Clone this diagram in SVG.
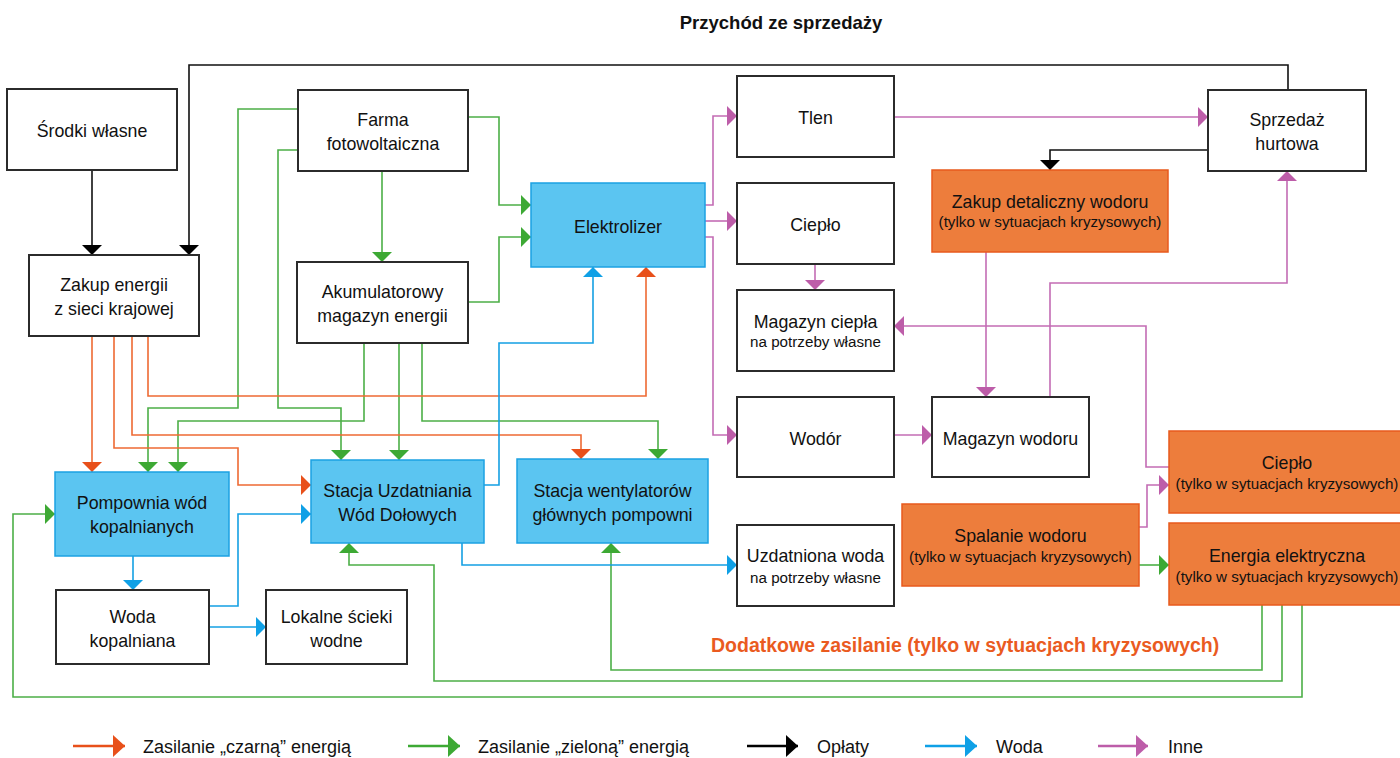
<svg xmlns="http://www.w3.org/2000/svg" width="1400" height="758" viewBox="0 0 1400 758">
<style>
.box{fill:#fff;stroke:#2b2b2b;stroke-width:2}
.blue{fill:#5BC5F1;stroke:#1BA1E2;stroke-width:1.5}
.orng{fill:#ED7D3C;stroke:#E85A1C;stroke-width:1.5}
text{font-family:"Liberation Sans",Arial,sans-serif;fill:#111}
.t{font-size:17.8px;text-anchor:middle}
.s{font-size:15.2px;text-anchor:middle}
.lg{font-size:18px}
.c{fill:none;stroke-width:1.6}
.k{stroke:#111}.g{stroke:#4CAF47}.o{stroke:#EE6A33}.b{stroke:#14A0E3}.p{stroke:#C36CB4}
</style>
<defs>
<marker id="ak" markerUnits="userSpaceOnUse" markerWidth="10" markerHeight="20" viewBox="0 0 10 20" refX="10" refY="10" orient="auto"><path d="M0,0 L10,10 L0,20 z" fill="#000"/></marker>
<marker id="ag" markerUnits="userSpaceOnUse" markerWidth="10" markerHeight="20" viewBox="0 0 10 20" refX="10" refY="10" orient="auto"><path d="M0,0 L10,10 L0,20 z" fill="#3DA934"/></marker>
<marker id="ao" markerUnits="userSpaceOnUse" markerWidth="10" markerHeight="20" viewBox="0 0 10 20" refX="10" refY="10" orient="auto"><path d="M0,0 L10,10 L0,20 z" fill="#E8501A"/></marker>
<marker id="ab" markerUnits="userSpaceOnUse" markerWidth="10" markerHeight="20" viewBox="0 0 10 20" refX="10" refY="10" orient="auto"><path d="M0,0 L10,10 L0,20 z" fill="#0FA0E6"/></marker>
<marker id="ap" markerUnits="userSpaceOnUse" markerWidth="10" markerHeight="20" viewBox="0 0 10 20" refX="10" refY="10" orient="auto"><path d="M0,0 L10,10 L0,20 z" fill="#BD5DA9"/></marker>
<marker id="lk" markerUnits="userSpaceOnUse" markerWidth="12" markerHeight="22" viewBox="0 0 12 22" refX="12" refY="11" orient="auto"><path d="M0,0 L12,11 L0,22 z" fill="#000"/></marker>
<marker id="lg" markerUnits="userSpaceOnUse" markerWidth="12" markerHeight="22" viewBox="0 0 12 22" refX="12" refY="11" orient="auto"><path d="M0,0 L12,11 L0,22 z" fill="#3DA934"/></marker>
<marker id="lo" markerUnits="userSpaceOnUse" markerWidth="12" markerHeight="22" viewBox="0 0 12 22" refX="12" refY="11" orient="auto"><path d="M0,0 L12,11 L0,22 z" fill="#E8501A"/></marker>
<marker id="lb" markerUnits="userSpaceOnUse" markerWidth="12" markerHeight="22" viewBox="0 0 12 22" refX="12" refY="11" orient="auto"><path d="M0,0 L12,11 L0,22 z" fill="#0FA0E6"/></marker>
<marker id="lp" markerUnits="userSpaceOnUse" markerWidth="12" markerHeight="22" viewBox="0 0 12 22" refX="12" refY="11" orient="auto"><path d="M0,0 L12,11 L0,22 z" fill="#BD5DA9"/></marker>
</defs>

<text x="781" y="29" style="font-size:18.5px;font-weight:bold;text-anchor:middle">Przychód ze sprzedaży</text>

<g id="connectors">
<!-- black -->
<path class="c k" d="M92,170 V255" marker-end="url(#ak)"/>
<path class="c k" d="M1288,90 V65 H189 V255" marker-end="url(#ak)"/>
<path class="c k" d="M1208,150 H1050 V170" marker-end="url(#ak)"/>
<!-- green -->
<path class="c g" d="M382,171 V262" marker-end="url(#ag)"/>
<path class="c g" d="M468,117 H499 V205 H531" marker-end="url(#ag)"/>
<path class="c g" d="M468,302 H499 V237 H531" marker-end="url(#ag)"/>
<path class="c g" d="M298,109 H238 V408 H148 V472" marker-end="url(#ag)"/>
<path class="c g" d="M298,150 H278 V408 H341 V460" marker-end="url(#ag)"/>
<path class="c g" d="M364,343 V421 H178 V472" marker-end="url(#ag)"/>
<path class="c g" d="M399,343 V460" marker-end="url(#ag)"/>
<path class="c g" d="M422,343 V421 H658 V459" marker-end="url(#ag)"/>
<path class="c g" d="M1139,565 H1169" marker-end="url(#ag)"/>
<path class="c g" d="M1262,605 V670 H611 V543" marker-end="url(#ag)"/>
<path class="c g" d="M1282,605 V681 H434 V565 H349 V543" marker-end="url(#ag)"/>
<path class="c g" d="M1302,605 V697 H13 V514 H55" marker-end="url(#ag)"/>
<!-- orange -->
<path class="c o" d="M92,336 V472" marker-end="url(#ao)"/>
<path class="c o" d="M114,336 V448 H238 V485 H311" marker-end="url(#ao)"/>
<path class="c o" d="M132,336 V435 H581 V459" marker-end="url(#ao)"/>
<path class="c o" d="M148,336 V396 H646 V267" marker-end="url(#ao)"/>
<!-- blue -->
<path class="c b" d="M133,556 V590" marker-end="url(#ab)"/>
<path class="c b" d="M209,606 H238 V514 H311" marker-end="url(#ab)"/>
<path class="c b" d="M209,627 H266" marker-end="url(#ab)"/>
<path class="c b" d="M484,485 H499 V343 H593 V267" marker-end="url(#ab)"/>
<path class="c b" d="M462,543 V565 H737" marker-end="url(#ab)"/>
<!-- pink -->
<path class="c p" d="M705,205 H713 V116 H737" marker-end="url(#ap)"/>
<path class="c p" d="M705,221 H737" marker-end="url(#ap)"/>
<path class="c p" d="M705,237 H713 V435 H737" marker-end="url(#ap)"/>
<path class="c p" d="M894,117 H1208" marker-end="url(#ap)"/>
<path class="c p" d="M815,264 V290" marker-end="url(#ap)"/>
<path class="c p" d="M1169,467 H1146 V326 H894" marker-end="url(#ap)"/>
<path class="c p" d="M986,252 V397" marker-end="url(#ap)"/>
<path class="c p" d="M1050,397 V283 H1287 V171" marker-end="url(#ap)"/>
<path class="c p" d="M894,435 H932" marker-end="url(#ap)"/>
<path class="c p" d="M1139,527 H1147 V485 H1169" marker-end="url(#ap)"/>
</g>

<g id="srodki"><rect class="box" x="7" y="89" width="170" height="81"/><text class="t" x="92" y="137">Środki własne</text></g>
<g id="zakup-energii"><rect class="box" x="29" y="255" width="170" height="81"/><text class="t" x="114" y="291">Zakup energii</text><text class="t" x="114" y="315">z sieci krajowej</text></g>
<g id="farma"><rect class="box" x="298" y="90" width="170" height="81"/><text class="t" x="383" y="126">Farma</text><text class="t" x="383" y="150">fotowoltaiczna</text></g>
<g id="akumulator"><rect class="box" x="297" y="262" width="171" height="81"/><text class="t" x="382.5" y="298">Akumulatorowy</text><text class="t" x="382.5" y="322">magazyn energii</text></g>
<g id="elektrolizer"><rect class="blue" x="531" y="183" width="174" height="84"/><text class="t" x="618" y="233">Elektrolizer</text></g>
<g id="tlen"><rect class="box" x="737" y="76" width="157" height="81"/><text class="t" x="815.5" y="124">Tlen</text></g>
<g id="cieplo"><rect class="box" x="737" y="183" width="157" height="81"/><text class="t" x="815.5" y="231">Ciepło</text></g>
<g id="magazyn-ciepla"><rect class="box" x="737" y="290" width="157" height="81"/><text class="t" x="815.5" y="328">Magazyn ciepła</text><text class="s" x="815.5" y="347">na potrzeby własne</text></g>
<g id="wodor"><rect class="box" x="737" y="397" width="157" height="80"/><text class="t" x="815.5" y="445">Wodór</text></g>
<g id="uzdatniona-woda"><rect class="box" x="737" y="525" width="157" height="81"/><text class="t" x="815.5" y="562">Uzdatniona woda</text><text class="s" x="815.5" y="583">na potrzeby własne</text></g>
<g id="sprzedaz"><rect class="box" x="1208" y="90" width="158" height="81"/><text class="t" x="1287" y="126">Sprzedaż</text><text class="t" x="1287" y="150">hurtowa</text></g>
<g id="zakup-detaliczny"><rect class="orng" x="932" y="170" width="236" height="82"/><text class="t" x="1050" y="208">Zakup detaliczny wodoru</text><text class="s" x="1050" y="227">(tylko w sytuacjach kryzysowych)</text></g>
<g id="magazyn-wodoru"><rect class="box" x="932" y="397" width="157" height="80"/><text class="t" x="1010.5" y="445">Magazyn wodoru</text></g>
<g id="spalanie"><rect class="orng" x="902" y="504" width="237" height="82"/><text class="t" x="1020.5" y="542">Spalanie wodoru</text><text class="s" x="1020.5" y="562">(tylko w sytuacjach kryzysowych)</text></g>
<g id="cieplo-kryzys"><rect class="orng" x="1169" y="431" width="236" height="82"/><text class="t" x="1287" y="469">Ciepło</text><text class="s" x="1287" y="489">(tylko w sytuacjach kryzysowych)</text></g>
<g id="energia-kryzys"><rect class="orng" x="1169" y="523" width="236" height="82"/><text class="t" x="1287" y="562">Energia elektryczna</text><text class="s" x="1287" y="582">(tylko w sytuacjach kryzysowych)</text></g>
<g id="pompownia"><rect class="blue" x="55" y="472" width="174" height="84"/><text class="t" x="142" y="509">Pompownia wód</text><text class="t" x="142" y="533">kopalnianych</text></g>
<g id="woda-kopalniana"><rect class="box" x="56" y="590" width="153" height="74"/><text class="t" x="132.5" y="623">Woda</text><text class="t" x="132.5" y="647">kopalniana</text></g>
<g id="scieki"><rect class="box" x="266" y="590" width="141" height="74"/><text class="t" x="336.5" y="623">Lokalne ścieki</text><text class="t" x="336.5" y="647">wodne</text></g>
<g id="stacja-uzdatniania"><rect class="blue" x="311" y="460" width="173" height="83"/><text class="t" x="397.5" y="497">Stacja Uzdatniania</text><text class="t" x="397.5" y="521">Wód Dołowych</text></g>
<g id="stacja-wentylatorow"><rect class="blue" x="517" y="459" width="191" height="84"/><text class="t" x="612.5" y="497">Stacja wentylatorów</text><text class="t" x="612.5" y="521">głównych pompowni</text></g>

<text x="711" y="652" style="font-size:19.5px;font-weight:bold;fill:#EA5B1F">Dodatkowe zasilanie (tylko w sytuacjach kryzysowych)</text>

<g id="legend">
<path d="M73,746 H125" stroke="#E8501A" stroke-width="2.5" fill="none" marker-end="url(#lo)"/>
<text class="lg" x="143" y="753">Zasilanie „czarną” energią</text>
<path d="M408,746 H460" stroke="#3DA934" stroke-width="2.5" fill="none" marker-end="url(#lg)"/>
<text class="lg" x="478" y="753">Zasilanie „zieloną” energią</text>
<path d="M747,746 H798" stroke="#000" stroke-width="2.5" fill="none" marker-end="url(#lk)"/>
<text class="lg" x="817" y="753">Opłaty</text>
<path d="M925,746 H977" stroke="#0FA0E6" stroke-width="2.5" fill="none" marker-end="url(#lb)"/>
<text class="lg" x="996" y="753">Woda</text>
<path d="M1098,746 H1148" stroke="#BD5DA9" stroke-width="2.5" fill="none" marker-end="url(#lp)"/>
<text class="lg" x="1168" y="753">Inne</text>
</g>
</svg>
